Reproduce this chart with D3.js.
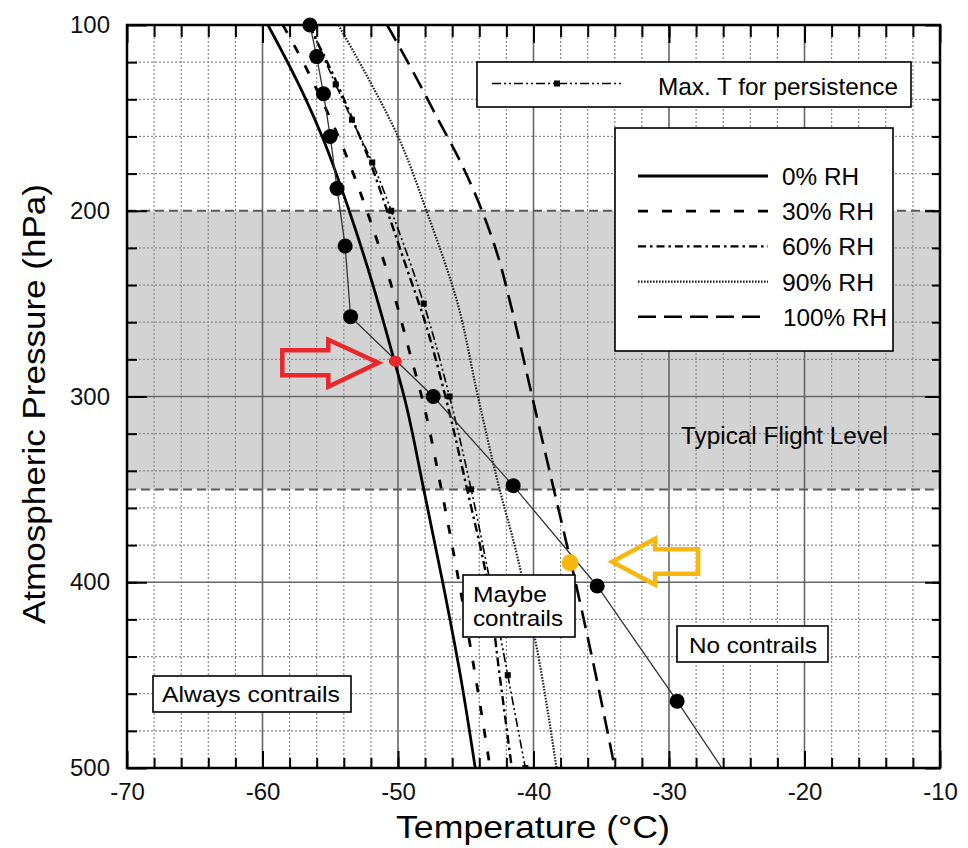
<!DOCTYPE html>
<html><head><meta charset="utf-8">
<script src="https://cdn.jsdelivr.net/npm/d3@7/dist/d3.min.js"></script>
<style>
body{margin:0;background:#fff;}
svg{display:block;font-family:"Liberation Sans",Arial,Helvetica,sans-serif;}
</style></head><body>
<svg id="c" width="968" height="848"></svg>
<script>
// ---------- DATA ----------
const tempTicks = [-70, -60, -50, -40, -30, -20, -10];
const pressTicks = [100, 200, 300, 400, 500];
const flightBand = [200, 350];

// Schmidt-Appleman threshold curves (pressure hPa, temperature °C)
const rh0P   = [100, 120, 140, 160, 200, 240, 280, 300, 350, 400, 450, 500];
const rh0T   = [-59.6, -58.15, -56.8, -55.6, -53.6, -51.85, -50.3, -49.55, -48.1, -46.7, -45.4, -44.3];
const rh30P  = [100, 120, 140, 160, 200, 240, 280, 300, 350, 400, 450, 500];
const rh30T  = [-58.5, -57.0, -55.65, -54.4, -52.3, -50.5, -49.0, -48.25, -46.8, -45.5, -44.3, -43.2];
const rh60P  = [100, 125, 150, 175, 200, 230, 260, 300, 350, 400, 450, 500];
const rh60T  = [-56.6, -54.9, -53.4, -52.0, -50.8, -49.4, -48.0, -46.5, -44.9, -43.4, -42.5, -41.6];
const rh90P  = [100, 130, 160, 200, 250, 300, 350, 380, 430, 500];
const rh90T  = [-54.4, -52.1, -50.0, -47.9, -45.6, -44.1, -42.5, -41.4, -39.9, -38.3];
const rh100P = [100, 125, 150, 175, 200, 225, 250, 300, 350, 400, 450, 500];
const rh100T = [-50.8, -48.9, -47.1, -45.3, -43.8, -42.6, -41.7, -40.1, -38.5, -36.9, -35.4, -34.0];
// Max. T for persistence
const maxTP  = [100, 132, 151, 174, 200, 250, 300, 350, 400, 450, 500];
const maxTT  = [-56.5, -54.6, -53.4, -51.9, -50.5, -48.1, -46.2, -44.6, -43.2, -41.9, -40.6];
// Ambient temperature profile
const profP   = [100, 117, 137, 160, 188, 219, 257, 300, 348, 402, 464, 500];
const profT   = [-56.5, -56.0, -55.5, -55.0, -54.5, -53.9, -53.5, -47.4, -41.5, -35.3, -29.4, -26.1];
const profDot = [1, 1, 1, 1, 1, 1, 1, 1, 1, 1, 1, 0];
// highlighted intersections
const redPoint = {p: 281, t: -50.2};
const yellowPoint = {p: 389.5, t: -37.3};

const legendLabels = ["0% RH", "30% RH", "60% RH", "90% RH", "100% RH"];

// ---------- CHART ----------
const svg = d3.select("#c");
const L = 127, R = 940, TOP = 25, B = 768;
const x = d3.scaleLinear().domain([-70, -10]).range([L, R]);
const y = d3.scaleLinear().domain([100, 500]).range([TOP, B]);

svg.append("rect").attr("width", 968).attr("height", 848).attr("fill", "#fff");

// flight band
svg.append("rect").attr("x", L).attr("y", y(flightBand[0]))
  .attr("width", R - L).attr("height", y(flightBand[1]) - y(flightBand[0]))
  .attr("fill", "#d3d3d3");

// grid
const grid = svg.append("g");
const minorT = d3.range(-68, -10, 2).filter(v => v % 10 !== 0);
const majorT = [-60, -50, -40, -30, -20];
const minorP = d3.range(120, 500, 20).filter(v => v % 100 !== 0 && v !== 200);
grid.selectAll(".mx").data(minorT).join("line")
  .attr("x1", d => x(d)).attr("x2", d => x(d)).attr("y1", TOP).attr("y2", B)
  .attr("stroke", "#8a8a8a").attr("stroke-width", 1.2).attr("stroke-dasharray", "2,2");
grid.selectAll(".my").data(minorP).join("line")
  .attr("y1", d => y(d)).attr("y2", d => y(d)).attr("x1", L).attr("x2", R)
  .attr("stroke", "#8a8a8a").attr("stroke-width", 1.2).attr("stroke-dasharray", "2,2");
grid.selectAll(".Mx").data(majorT).join("line")
  .attr("x1", d => x(d)).attr("x2", d => x(d)).attr("y1", TOP).attr("y2", B)
  .attr("stroke", "#666").attr("stroke-width", 1.6);
grid.selectAll(".My").data([300, 400]).join("line")
  .attr("y1", d => y(d)).attr("y2", d => y(d)).attr("x1", L).attr("x2", R)
  .attr("stroke", "#666").attr("stroke-width", 1.6);
grid.selectAll(".band").data(flightBand).join("line")
  .attr("y1", d => y(d)).attr("y2", d => y(d)).attr("x1", L).attr("x2", R)
  .attr("stroke", "#5a5a5a").attr("stroke-width", 2).attr("stroke-dasharray", "9,5");

// clip
svg.append("clipPath").attr("id", "clip").append("rect")
  .attr("x", L).attr("y", TOP).attr("width", R - L).attr("height", B - TOP);
const plot = svg.append("g").attr("clip-path", "url(#clip)");

const line = d3.line().x(d => x(d.t)).y(d => y(d.p)).curve(d3.curveMonotoneY);
const zip = (P, T) => P.map((p, i) => ({p, t: T[i]}));

const series = [
  {P: rh0P,   T: rh0T,   dash: null,          w: 2.8, c: "#000"},
  {P: rh30P,  T: rh30T,  dash: "9,14",        w: 2.8, c: "#000"},
  {P: rh60P,  T: rh60T,  dash: "9,4,2.5,4",   w: 2.4, c: "#000"},
  {P: rh90P,  T: rh90T,  dash: "1.6,1.4",     w: 2.2, c: "#222"},
  {P: rh100P, T: rh100T, dash: "18,9",        w: 2.6, c: "#000"}
];
series.forEach(s => {
  plot.append("path").datum(zip(s.P, s.T)).attr("d", line)
    .attr("fill", "none").attr("stroke", s.c).attr("stroke-width", s.w)
    .attr("stroke-dasharray", s.dash);
});
// max T for persistence
const maxTData = zip(maxTP, maxTT);
plot.append("path").datum(maxTData).attr("d", line)
  .attr("fill", "none").attr("stroke", "#000").attr("stroke-width", 1.6)
  .attr("stroke-dasharray", "9,3,2,3,2,3");
plot.selectAll(".sq").data(maxTData.slice(1)).join("rect")
  .attr("x", d => x(d.t) - 3).attr("y", d => y(d.p) - 3)
  .attr("width", 6).attr("height", 6).attr("fill", "#000");

// temperature profile
const profData = profP.map((p, i) => ({p, t: profT[i], dot: profDot[i]}));
plot.append("path").datum(profData)
  .attr("d", d3.line().x(d => x(d.t)).y(d => y(d.p)))
  .attr("fill", "none").attr("stroke", "#333").attr("stroke-width", 1.3);
svg.selectAll(".dot").data(profData.filter(d => d.dot)).join("circle")
  .attr("cx", d => x(d.t)).attr("cy", d => y(d.p)).attr("r", 7.5).attr("fill", "#000");

// highlighted points
svg.append("ellipse").attr("cx", x(redPoint.t)).attr("cy", y(redPoint.p))
  .attr("rx", 6.5).attr("ry", 5.5).attr("fill", "#e8262c");
svg.append("circle").attr("cx", x(yellowPoint.t)).attr("cy", y(yellowPoint.p))
  .attr("r", 8.5).attr("fill", "#f7b70e");

// arrows (outlined), positioned relative to the highlighted points
const arrowR = [[0,0],[-50,-23],[-50,-12.5],[-96,-12.5],[-96,12.5],[-50,12.5],[-50,24]];
const rx0 = x(redPoint.t) - 17, ry0 = y(redPoint.p) + 1.5;
svg.append("polygon").attr("points", arrowR.map(a => [rx0 + a[0], ry0 + a[1]].join(",")).join(" "))
  .attr("fill", "none").attr("stroke", "#e8262c").attr("stroke-width", 4.5).attr("stroke-linejoin", "miter");
const arrowY = [[0,0],[43,-23],[43,-12.5],[86,-12.5],[86,12],[43,12],[43,23]];
const yx0 = x(yellowPoint.t) + 42, yy0 = y(yellowPoint.p) - 1;
svg.append("polygon").attr("points", arrowY.map(a => [yx0 + a[0], yy0 + a[1]].join(",")).join(" "))
  .attr("fill", "none").attr("stroke", "#f7b70e").attr("stroke-width", 4.5).attr("stroke-linejoin", "miter");

// axes (ticks inward)
const fmt = d => String(d);
const minorAllT = d3.range(-68, -10, 2);
const minorAllP = d3.range(120, 500, 20);
function styleAxis(g) {
  g.select(".domain").remove();
  g.selectAll(".tick line").attr("stroke", "#000").attr("stroke-width", 2);
  g.selectAll("text").attr("font-size", 24).attr("fill", "#111")
    .attr("font-family", "'Liberation Sans',Arial,sans-serif");
}
svg.append("g").attr("transform", `translate(0,${B})`)
  .call(d3.axisBottom(x).tickValues(minorAllT).tickSize(-10).tickFormat("")).call(styleAxis);
svg.append("g").attr("transform", `translate(0,${B})`)
  .call(d3.axisBottom(x).tickValues(tempTicks).tickSize(-17).tickPadding(15).tickFormat(fmt)).call(styleAxis);
svg.append("g").attr("transform", `translate(0,${TOP})`)
  .call(d3.axisTop(x).tickValues(minorAllT).tickSize(-12).tickFormat("")).call(styleAxis);
svg.append("g").attr("transform", `translate(0,${TOP})`)
  .call(d3.axisTop(x).tickValues(tempTicks).tickSize(-18).tickFormat("")).call(styleAxis);
svg.append("g").attr("transform", `translate(${L},0)`)
  .call(d3.axisLeft(y).tickValues(minorAllP).tickSize(-10).tickFormat("")).call(styleAxis);
svg.append("g").attr("transform", `translate(${L},0)`)
  .call(d3.axisLeft(y).tickValues(pressTicks).tickSize(-20).tickPadding(17).tickFormat(fmt)).call(styleAxis);
svg.append("g").attr("transform", `translate(${R},0)`)
  .call(d3.axisRight(y).tickValues(minorAllP).tickSize(-8).tickFormat("")).call(styleAxis);
svg.append("g").attr("transform", `translate(${R},0)`)
  .call(d3.axisRight(y).tickValues(pressTicks).tickSize(-15).tickFormat("")).call(styleAxis);

// frame
svg.append("rect").attr("x", L).attr("y", TOP).attr("width", R - L).attr("height", B - TOP)
  .attr("fill", "none").attr("stroke", "#000").attr("stroke-width", 2.5);

// axis titles
svg.append("text").attr("x", 533).attr("y", 838).attr("text-anchor", "middle")
  .attr("font-size", 32).attr("textLength", 274).attr("lengthAdjust", "spacingAndGlyphs")
  .text("Temperature (°C)");
svg.append("text").attr("transform", "translate(45,404) rotate(-90)").attr("text-anchor", "middle")
  .attr("font-size", 32).attr("textLength", 440).attr("lengthAdjust", "spacingAndGlyphs")
  .text("Atmospheric Pressure (hPa)");

// legend: Max T for persistence
const lg1 = svg.append("g");
lg1.append("rect").attr("x", 477).attr("y", 62).attr("width", 434).attr("height", 45)
  .attr("fill", "#fff").attr("stroke", "#000").attr("stroke-width", 1.6);
lg1.append("line").attr("x1", 492).attr("x2", 622).attr("y1", 83.5).attr("y2", 83.5)
  .attr("stroke", "#000").attr("stroke-width", 1.6).attr("stroke-dasharray", "9,3,2,3,2,3");
lg1.append("rect").attr("x", 554).attr("y", 80.5).attr("width", 6).attr("height", 6).attr("fill", "#000");
lg1.append("text").attr("x", 658).attr("y", 95).attr("font-size", 24)
  .attr("textLength", 240).attr("lengthAdjust", "spacingAndGlyphs").text("Max. T for persistence");

// legend: RH curves
const lg2 = svg.append("g");
lg2.append("rect").attr("x", 615).attr("y", 128).attr("width", 278).attr("height", 223)
  .attr("fill", "#fff").attr("stroke", "#000").attr("stroke-width", 1.6);
const legDash = [null, "10,14", "8,4,2.5,4", "1.6,1.4", "18,8"];
const legW = [2.8, 2.8, 2.4, 2.2, 2.6];
const legC = ["#000", "#000", "#000", "#222", "#000"];
const legLen = [77, 92, 92, 92, 104];
legendLabels.forEach((lab, i) => {
  const yy = 176 + i * 35.2;
  lg2.append("line").attr("x1", 638).attr("x2", 768).attr("y1", yy).attr("y2", yy)
    .attr("stroke", legC[i]).attr("stroke-width", legW[i]).attr("stroke-dasharray", legDash[i]);
  lg2.append("text").attr("x", i === 4 ? 783 : 782).attr("y", yy + 9).attr("font-size", 23)
    .attr("textLength", legLen[i]).attr("lengthAdjust", "spacingAndGlyphs").text(lab);
});

// region labels
svg.append("text").attr("x", 681).attr("y", 444).attr("font-size", 23)
  .attr("textLength", 207).attr("lengthAdjust", "spacingAndGlyphs").text("Typical Flight Level");

function boxLabel(bx, by, bw, bh, lines) {
  const g = svg.append("g");
  g.append("rect").attr("x", bx).attr("y", by).attr("width", bw).attr("height", bh)
    .attr("fill", "#fff").attr("stroke", "#000").attr("stroke-width", 1.6);
  lines.forEach(l => g.append("text").attr("x", l.x).attr("y", l.y).attr("font-size", 22)
    .attr("textLength", l.len).attr("lengthAdjust", "spacingAndGlyphs").text(l.s));
}
boxLabel(463, 575, 112, 62, [{s: "Maybe", x: 473, y: 602, len: 74}, {s: "contrails", x: 473, y: 626, len: 90}]);
boxLabel(677, 626, 151, 36, [{s: "No contrails", x: 689, y: 653, len: 128}]);
boxLabel(153, 676, 198, 36, [{s: "Always contrails", x: 162, y: 702, len: 178}]);
</script>
</body></html>
